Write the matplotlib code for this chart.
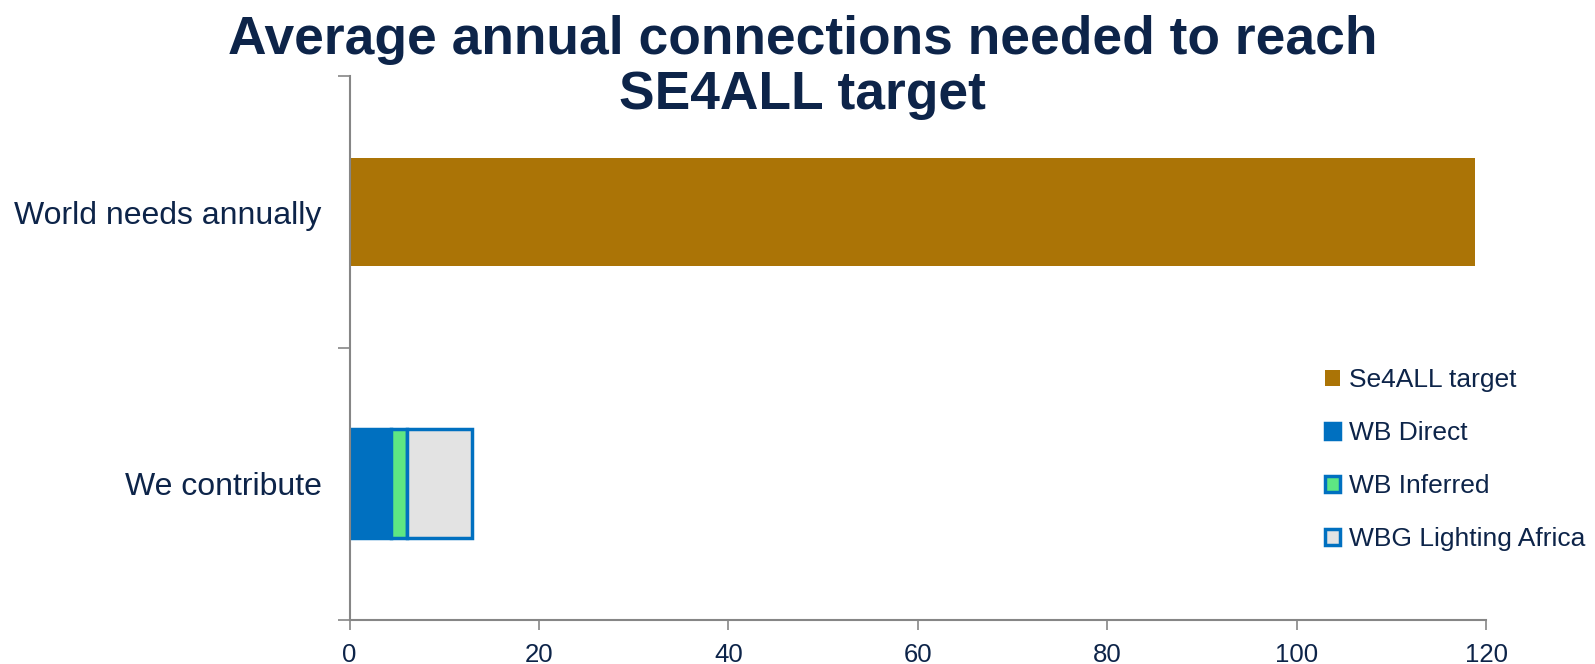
import matplotlib
matplotlib.use("Agg")
import matplotlib.pyplot as plt

# categories (bottom to top) and series values
categories = ["We contribute", "World needs annually"]
se4all_target = [0, 118.8]
wb_direct = [4.4, 0]
wb_inferred = [1.7, 0]
wbg_lighting_africa = [6.8, 0]
x_ticks = [0, 20, 40, 60, 80, 100, 120]

navy = "#0D2449"
axis_grey = "#868686"
blue = "#0070C0"

plt.rcParams["font.family"] = ["Liberation Sans", "DejaVu Sans"]

fig = plt.figure(figsize=(15.95, 6.64), dpi=100)
ax = fig.add_axes([0.2192, 0.067, 0.7125, 0.818])


def edge_widths(vals):
    # no outline on empty segments, otherwise a sliver shows at x=0
    return [2.5 if v > 0 else 0 for v in vals]


y = [0, 1]
h = 0.4
ax.barh(y, se4all_target, height=h, color="#AB7406", linewidth=0,
        label="Se4ALL target")
ax.barh(y, wb_direct, height=h, color=blue, edgecolor=blue,
        linewidth=edge_widths(wb_direct), label="WB Direct")
left2 = [wb_direct[i] for i in range(2)]
ax.barh(y, wb_inferred, height=h, left=left2, color="#5EE683", edgecolor=blue,
        linewidth=edge_widths(wb_inferred), label="WB Inferred")
left3 = [wb_direct[i] + wb_inferred[i] for i in range(2)]
ax.barh(y, wbg_lighting_africa, height=h, left=left3, color="#E3E3E3",
        edgecolor=blue, linewidth=edge_widths(wbg_lighting_africa),
        label="WBG Lighting Africa")

ax.set_xlim(0, 120)
ax.set_ylim(-0.5, 1.5)
ax.set_xticks(x_ticks)
ax.set_xticklabels([str(t) for t in x_ticks])
ax.set_yticks([-0.5, 0.5, 1.5], minor=False)
ax.set_yticklabels(["", "", ""])
ax.set_yticks(y, minor=True)
ax.set_yticklabels(categories, minor=True)

for s in ["top", "right"]:
    ax.spines[s].set_visible(False)
for s in ["left", "bottom"]:
    ax.spines[s].set_color(axis_grey)
    ax.spines[s].set_linewidth(1.5)

ax.tick_params(axis="x", which="major", direction="out", length=7, width=1.2,
               color=axis_grey, labelsize=18.5, labelcolor=navy, pad=10)
ax.tick_params(axis="y", which="major", direction="out", length=9, width=1.2,
               color=axis_grey)
ax.tick_params(axis="y", which="minor", length=0, labelsize=23,
               labelcolor=navy, pad=20)

handles, labels = ax.get_legend_handles_labels()
handles[0].patches[0].set_linewidth(0)
leg = fig.legend(handles, labels, loc="upper left",
                 bbox_to_anchor=(1325 / 1595, 1 - 368 / 664), frameon=False,
                 fontsize=19, handlelength=0.55, handleheight=0.55,
                 handletextpad=0.35, labelspacing=1.1, borderpad=0,
                 borderaxespad=0)
for t in leg.get_texts():
    t.set_color(navy)

fig.text(0.503, 0.978, "Average annual connections needed to reach\nSE4ALL target",
         ha="center", va="top", fontsize=38.4, fontweight="bold", color=navy,
         linespacing=1.15)

fig.savefig("out.png", dpi=100, facecolor="white")
